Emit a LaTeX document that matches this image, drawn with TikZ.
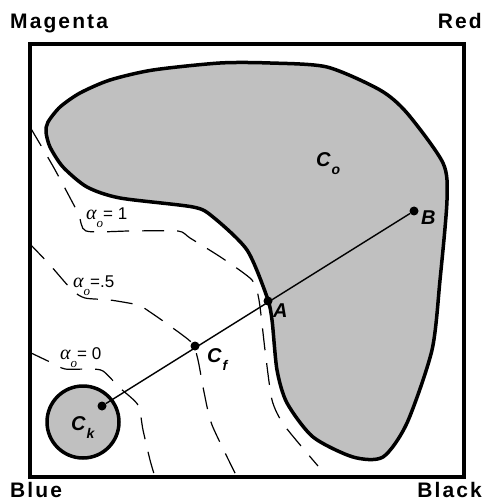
\documentclass[tikz,border=0pt]{standalone}
\usepackage{fontspec}
\setmainfont{Liberation Sans}
\newfontfamily\greekit{Liberation Serif}
\definecolor{regiongray}{RGB}{192,192,192}
\newcommand\ptsub[2]{#1\kern1pt\raisebox{-8pt}{\fontsize{14}{14}\selectfont #2}}
\newcommand\alphasub{{\fontsize{20}{20}\selectfont\greekit\itshape α}\raisebox{-8pt}{\fontsize{13}{13}\selectfont\greekit\itshape o}}

\begin{document}
\begin{tikzpicture}[x=1pt,y=-1pt]
      \tikzset{frame/.style={line width=4pt},
        region/.style={draw, fill=regiongray, line width=3.5pt, line join=round},
        isoline/.style={line width=1.2pt, dash pattern=on 22pt off 13pt},
        dot/.style={circle, fill, inner sep=0pt, minimum size=9pt},
        corner/.style={font=\fontsize{21}{21}\selectfont\bfseries\addfontfeatures{LetterSpace=10}, inner sep=0pt},
        ptname/.style={font=\fontsize{20}{20}\selectfont\bfseries\itshape, inner sep=0pt, anchor=base west},
        alphalabel/.style={font=\fontsize{17}{17}\selectfont, inner sep=0pt, anchor=base west}}
      \useasboundingbox (0,0) rectangle (486,502);
      % iso lines
      \draw[isoline] plot[smooth, tension=0.4] coordinates {(30,127) (54,168) (78,213) (86,231) (130,231) (178,231) (190,238) (222,258) (252,280) (259,300) (265,350) (272,400) (284,425) (318,466)};
      \draw[isoline] plot[smooth, tension=0.4] coordinates {(29,243) (50,265) (72,290) (85,298) (110,300) (138,305) (150,312) (170,326) (192,343) (198,360) (204,392) (212,425) (237,477)};
      \draw[isoline] plot[smooth, tension=0.4] coordinates {(29,352) (50,362) (65,369) (90,369) (103,371) (120,388) (138,405) (143,430) (150,460) (155,477)};
      % regions
      \draw[region] plot[smooth cycle, tension=0.45] coordinates {(46,132) (48,122) (60,107) (80,93) (110,80) (153,70) (220,63) (270,63) (327,67) (380,90) (407,113) (443,163) (447,200) (440,280) (432,350) (407,423) (383,457) (353,457) (313,437) (287,403) (277,370) (272,320) (267,297) (247,250) (213,217) (193,207) (120,198) (87,187) (63,167) (50,147)};
      \draw[region] (83,422) circle[radius=36pt];
      \draw[frame] (29.5,44) rectangle (463.5,477);
      % points
      \node[dot] (ck) at (102,406) {};
      \node[dot] (cf) at (195,346) {};
      \node[dot] (a) at (268,301) {};
      \node[dot] (b) at (414,211) {};
      \draw[line width=1.4pt] (ck) -- (b);
      \node[ptname] (lb) at (421,225) {B};
      \node[ptname] (la) at (273,317) {A};
      \node[ptname] (lcf) at (207,362) {\ptsub{C}{f}};
      \node[ptname] (lco) at (316,167) {\ptsub{C}{o}};
      \node[ptname] (lck) at (71,430) {\ptsub{C}{k}};
      % alpha labels
      \node[alphalabel] (al1) at (86,220) {\alphasub= 1};
      \node[alphalabel] (al5) at (73,287) {\alphasub=.5};
      \node[alphalabel] (al0) at (60,359) {\alphasub= 0};
      % corners
      \node[corner, anchor=base west] (magenta) at (10,29) {Magenta};
      \node[corner, anchor=base east] (red) at (482,29) {Red};
      \node[corner, anchor=base west] (blue) at (10,497) {Blue};
      \node[corner, anchor=base east] (black) at (482,497) {Black};
\end{tikzpicture}
\end{document}
